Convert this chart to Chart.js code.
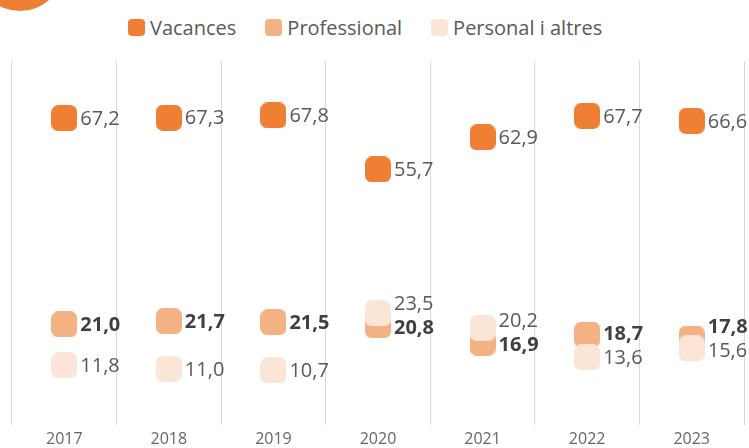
<!DOCTYPE html>
<html lang="ca">
<head>
<meta charset="utf-8">
<script src="https://cdn.jsdelivr.net/npm/chart.js@4/dist/chart.umd.min.js"></script>
<style>
  html, body { margin: 0; padding: 0; background: #fff; overflow: hidden; }
  #wrap { position: relative; width: 749px; height: 448px; overflow: hidden; }
  #badge { position: absolute; left: -24px; top: -77px; width: 88px; height: 88px; border-radius: 50%; background: #ee7f33; }
  #legend { position: absolute; left: 128px; top: 14px; display: flex; gap: 29px; font-family: "Open Sans", sans-serif; font-size: 20px; color: #595959; }
  #legend .item { display: flex; align-items: center; gap: 5px; height: 26px; }
  #legend .box { width: 17px; height: 17px; border-radius: 4px; }
  #chartBox { position: absolute; left: 0; top: 0; width: 749px; height: 470px; }
</style>
</head>
<body>
<div id="wrap">
  <div id="badge"></div>
  <div id="legend"></div>
  <div id="chartBox"><canvas id="dotChart" width="749" height="470"></canvas></div>
</div>
<script>
const years = ['2017', '2018', '2019', '2020', '2021', '2022', '2023'];
const seriesNames = ['Vacances', 'Professional', 'Personal i altres'];
const vacances = [67.2, 67.3, 67.8, 55.7, 62.9, 67.7, 66.6];
const professional = [21.0, 21.7, 21.5, 20.8, 16.9, 18.7, 17.8];
const personal = [11.8, 11.0, 10.7, 23.5, 20.2, 13.6, 15.6];
const colors = ['#ee7f33', '#f4b183', '#fbe5d6'];
const fontFamily = '"Open Sans"';

// rounded square used as point marker
function makeMarker(color, size, r) {
  const c = document.createElement('canvas');
  c.width = size; c.height = size;
  const g = c.getContext('2d');
  g.fillStyle = color;
  g.beginPath();
  g.moveTo(r, 0);
  g.arcTo(size, 0, size, size, r);
  g.arcTo(size, size, 0, size, r);
  g.arcTo(0, size, 0, 0, r);
  g.arcTo(0, 0, size, 0, r);
  g.closePath();
  g.fill();
  return c;
}

// html legend
const legendEl = document.getElementById('legend');
seriesNames.forEach((name, i) => {
  const item = document.createElement('div');
  item.className = 'item';
  const box = document.createElement('span');
  box.className = 'box';
  box.style.background = colors[i];
  const txt = document.createElement('span');
  txt.textContent = name;
  item.appendChild(box);
  item.appendChild(txt);
  legendEl.appendChild(item);
});

const fmt = v => v.toFixed(1).replace('.', ',');

// value labels to the right of each marker, nudged apart when two collide
const valueLabels = {
  id: 'valueLabels',
  afterDatasetsDraw(chart) {
    const ctx = chart.ctx;
    const styles = [
      { font: '400 20px ' + fontFamily, color: '#595959' },
      { font: '700 20px ' + fontFamily, color: '#404040' },
      { font: '400 20px ' + fontFamily, color: '#595959' }
    ];
    const minGap = 24;
    years.forEach((y, i) => {
      const items = [];
      chart.data.datasets.forEach((ds, d) => {
        const el = chart.getDatasetMeta(d).data[i];
        items.push({ d, x: el.x, y: el.y, ly: el.y, v: ds.data[i] });
      });
      items.sort((a, b) => a.y - b.y);
      for (let k = 1; k < items.length; k++) {
        const up = items[k - 1], lo = items[k];
        const gap = lo.ly - up.ly;
        if (gap < minGap) {
          const need = minGap - gap;
          up.ly -= need * 0.85;
          lo.ly += need * 0.15;
        }
      }
      items.forEach(it => {
        ctx.save();
        ctx.font = styles[it.d].font;
        ctx.fillStyle = styles[it.d].color;
        ctx.textAlign = 'left';
        ctx.textBaseline = 'middle';
        ctx.fillText(fmt(it.v), it.x + 16, it.ly + 1);
        ctx.restore();
      });
    });
  }
};

const ctx = document.getElementById('dotChart').getContext('2d');

const dotChart = new Chart(ctx, {
  type: 'line',
  data: {
    labels: years,
    datasets: [
      { label: seriesNames[0], data: vacances, order: 2 },
      { label: seriesNames[1], data: professional, order: 1 },
      { label: seriesNames[2], data: personal, order: 0 }
    ].map((ds, i) => Object.assign(ds, {
      showLine: false,
      pointStyle: makeMarker(colors[i], 26, 7),
      backgroundColor: colors[i],
      borderColor: colors[i]
    }))
  },
  options: {
    responsive: false,
    animation: false,
    devicePixelRatio: 1,
    layout: { padding: { top: 61, left: 12, right: 5, bottom: 16 } },
    plugins: { legend: { display: false }, tooltip: { enabled: false } },
    scales: {
      x: {
        offset: true,
        grid: { offset: true, color: '#d9d9d9', lineWidth: 1, drawTicks: false },
        border: { display: false },
        ticks: { padding: 5, maxRotation: 0, color: '#666666', font: { family: fontFamily, size: 16 } }
      },
      y: {
        display: false,
        min: -1.5,
        max: 80
      }
    }
  },
  plugins: [valueLabels]
});
</script>
</body>
</html>
